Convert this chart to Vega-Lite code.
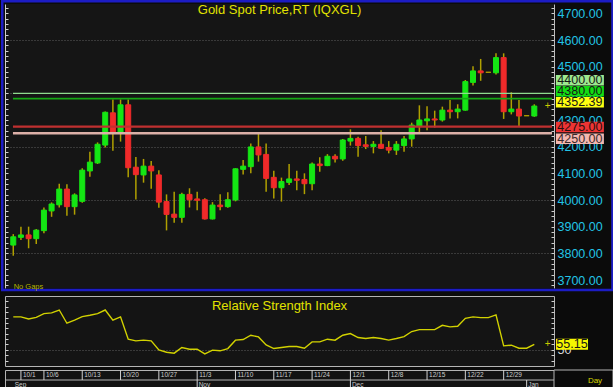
{
  "$schema": "https://vega.github.io/schema/vega-lite/v6.json",
  "background": "#0b0b0b",
  "padding": 0,
  "spacing": 2,
  "datasets": {
    "candles": [
      {"d": "9/30", "i": -1, "o": 3831, "h": 3872, "l": 3791, "c": 3862, "r": 80.6},
      {"d": "10/1", "i": 0, "o": 3860, "h": 3900, "l": 3850, "c": 3869, "r": 80.6},
      {"d": "10/2", "i": 1, "o": 3869, "h": 3900, "l": 3819, "c": 3855, "r": 78.7},
      {"d": "10/3", "i": 2, "o": 3855, "h": 3891, "l": 3835, "c": 3887, "r": 80.2},
      {"d": "10/6", "i": 3, "o": 3885, "h": 3972, "l": 3875, "c": 3962, "r": 83.6},
      {"d": "10/7", "i": 4, "o": 3959, "h": 3991, "l": 3937, "c": 3985, "r": 84.3},
      {"d": "10/8", "i": 5, "o": 3982, "h": 4061, "l": 3972, "c": 4041, "r": 87.0},
      {"d": "10/9", "i": 6, "o": 4041, "h": 4059, "l": 3941, "c": 3975, "r": 74.7},
      {"d": "10/10", "i": 7, "o": 3975, "h": 4025, "l": 3945, "c": 4019, "r": 77.5},
      {"d": "10/13", "i": 8, "o": 3995, "h": 4119, "l": 3990, "c": 4112, "r": 80.9},
      {"d": "10/14", "i": 9, "o": 4109, "h": 4181, "l": 4087, "c": 4142, "r": 82.1},
      {"d": "10/15", "i": 10, "o": 4139, "h": 4216, "l": 4135, "c": 4209, "r": 83.6},
      {"d": "10/16", "i": 11, "o": 4206, "h": 4332, "l": 4197, "c": 4329, "r": 87.0},
      {"d": "10/17", "i": 12, "o": 4327, "h": 4377, "l": 4185, "c": 4250, "r": 77.5},
      {"d": "10/20", "i": 13, "o": 4250, "h": 4377, "l": 4219, "c": 4357, "r": 80.6},
      {"d": "10/21", "i": 14, "o": 4357, "h": 4377, "l": 4085, "c": 4121, "r": 59.9},
      {"d": "10/22", "i": 15, "o": 4123, "h": 4161, "l": 4002, "c": 4095, "r": 58.3},
      {"d": "10/23", "i": 16, "o": 4094, "h": 4154, "l": 4065, "c": 4127, "r": 59.0},
      {"d": "10/24", "i": 17, "o": 4127, "h": 4146, "l": 4042, "c": 4109, "r": 58.3},
      {"d": "10/27", "i": 18, "o": 4094, "h": 4112, "l": 3971, "c": 3992, "r": 50.0},
      {"d": "10/28", "i": 19, "o": 3994, "h": 4021, "l": 3886, "c": 3946, "r": 47.8},
      {"d": "10/29", "i": 20, "o": 3947, "h": 4031, "l": 3915, "c": 3935, "r": 46.9},
      {"d": "10/30", "i": 21, "o": 3935, "h": 4027, "l": 3915, "c": 4021, "r": 52.2},
      {"d": "10/31", "i": 22, "o": 4021, "h": 4044, "l": 3972, "c": 4001, "r": 50.6},
      {"d": "11/3", "i": 23, "o": 4004, "h": 4031, "l": 3962, "c": 3999, "r": 50.6},
      {"d": "11/4", "i": 24, "o": 4001, "h": 4007, "l": 3927, "c": 3929, "r": 46.3},
      {"d": "11/5", "i": 25, "o": 3929, "h": 3992, "l": 3927, "c": 3981, "r": 49.7},
      {"d": "11/6", "i": 26, "o": 3981, "h": 4022, "l": 3962, "c": 3975, "r": 49.1},
      {"d": "11/7", "i": 27, "o": 3975, "h": 4029, "l": 3971, "c": 4001, "r": 51.2},
      {"d": "11/10", "i": 28, "o": 4000, "h": 4119, "l": 3995, "c": 4117, "r": 59.0},
      {"d": "11/11", "i": 29, "o": 4115, "h": 4150, "l": 4096, "c": 4127, "r": 59.6},
      {"d": "11/12", "i": 30, "o": 4125, "h": 4212, "l": 4100, "c": 4199, "r": 63.6},
      {"d": "11/13", "i": 31, "o": 4199, "h": 4250, "l": 4144, "c": 4169, "r": 62.0},
      {"d": "11/14", "i": 32, "o": 4171, "h": 4212, "l": 4031, "c": 4081, "r": 54.6},
      {"d": "11/17", "i": 33, "o": 4085, "h": 4110, "l": 4006, "c": 4046, "r": 51.2},
      {"d": "11/18", "i": 34, "o": 4046, "h": 4084, "l": 3994, "c": 4069, "r": 52.2},
      {"d": "11/19", "i": 35, "o": 4066, "h": 4135, "l": 4056, "c": 4079, "r": 53.1},
      {"d": "11/20", "i": 36, "o": 4079, "h": 4110, "l": 4037, "c": 4074, "r": 53.1},
      {"d": "11/21", "i": 37, "o": 4077, "h": 4100, "l": 4022, "c": 4061, "r": 51.5},
      {"d": "11/24", "i": 38, "o": 4061, "h": 4141, "l": 4037, "c": 4135, "r": 57.4},
      {"d": "11/25", "i": 39, "o": 4135, "h": 4160, "l": 4106, "c": 4129, "r": 57.4},
      {"d": "11/26", "i": 40, "o": 4129, "h": 4172, "l": 4127, "c": 4164, "r": 59.9},
      {"d": "11/27", "i": 41, "o": 4164, "h": 4172, "l": 4141, "c": 4154, "r": 59.0},
      {"d": "11/28", "i": 42, "o": 4154, "h": 4229, "l": 4147, "c": 4225, "r": 63.6},
      {"d": "12/1", "i": 43, "o": 4221, "h": 4265, "l": 4204, "c": 4231, "r": 65.1},
      {"d": "12/2", "i": 44, "o": 4231, "h": 4237, "l": 4162, "c": 4204, "r": 61.4},
      {"d": "12/3", "i": 45, "o": 4207, "h": 4240, "l": 4191, "c": 4201, "r": 60.5},
      {"d": "12/4", "i": 46, "o": 4201, "h": 4221, "l": 4175, "c": 4209, "r": 61.4},
      {"d": "12/5", "i": 47, "o": 4209, "h": 4262, "l": 4191, "c": 4194, "r": 60.5},
      {"d": "12/8", "i": 48, "o": 4197, "h": 4221, "l": 4175, "c": 4187, "r": 59.0},
      {"d": "12/9", "i": 49, "o": 4187, "h": 4221, "l": 4169, "c": 4209, "r": 60.5},
      {"d": "12/10", "i": 50, "o": 4204, "h": 4240, "l": 4181, "c": 4229, "r": 62.3},
      {"d": "12/11", "i": 51, "o": 4229, "h": 4290, "l": 4200, "c": 4281, "r": 67.0},
      {"d": "12/12", "i": 52, "o": 4277, "h": 4355, "l": 4254, "c": 4300, "r": 68.8},
      {"d": "12/15", "i": 53, "o": 4297, "h": 4352, "l": 4262, "c": 4304, "r": 68.8},
      {"d": "12/16", "i": 54, "o": 4304, "h": 4335, "l": 4272, "c": 4300, "r": 68.8},
      {"d": "12/17", "i": 55, "o": 4300, "h": 4350, "l": 4294, "c": 4337, "r": 72.8},
      {"d": "12/18", "i": 56, "o": 4337, "h": 4375, "l": 4306, "c": 4331, "r": 71.3},
      {"d": "12/19", "i": 57, "o": 4331, "h": 4359, "l": 4306, "c": 4341, "r": 71.9},
      {"d": "12/22", "i": 58, "o": 4337, "h": 4450, "l": 4335, "c": 4444, "r": 79.3},
      {"d": "12/23", "i": 59, "o": 4441, "h": 4502, "l": 4429, "c": 4484, "r": 80.6},
      {"d": "12/24", "i": 60, "o": 4484, "h": 4529, "l": 4447, "c": 4477, "r": 79.9},
      {"d": "12/25", "i": 61, "o": 4479, "h": 4479, "l": 4479, "c": 4479, "r": 79.9},
      {"d": "12/26", "i": 62, "o": 4477, "h": 4550, "l": 4471, "c": 4534, "r": 82.4},
      {"d": "12/29", "i": 63, "o": 4534, "h": 4550, "l": 4304, "c": 4331, "r": 53.7},
      {"d": "12/30", "i": 64, "o": 4331, "h": 4404, "l": 4321, "c": 4341, "r": 54.3},
      {"d": "12/31", "i": 65, "o": 4341, "h": 4375, "l": 4275, "c": 4315, "r": 51.5},
      {"d": "1/1", "i": 66, "o": 4316, "h": 4316, "l": 4316, "c": 4316, "r": 51.5},
      {"d": "1/2", "i": 67, "o": 4315, "h": 4359, "l": 4312, "c": 4352.39, "r": 55.15}
    ],
    "levels": [
      {"name": "4400.00", "p": 4400},
      {"name": "4380.00", "p": 4380},
      {"name": "4352.39", "p": 4352.39},
      {"name": "4275.00", "p": 4275},
      {"name": "4250.00", "p": 4250}
    ],
    "weeks": [
      {"i": 0, "t": "10/1"}, {"i": 3, "t": "10/6"}, {"i": 8, "t": "10/13"}, {"i": 13, "t": "10/20"},
      {"i": 18, "t": "10/27"}, {"i": 23, "t": "11/3"}, {"i": 28, "t": "11/10"}, {"i": 33, "t": "11/17"},
      {"i": 38, "t": "11/24"}, {"i": 43, "t": "12/1"}, {"i": 48, "t": "12/8"}, {"i": 53, "t": "12/15"},
      {"i": 58, "t": "12/22"}, {"i": 63, "t": "12/29"}
    ],
    "months": [
      {"i": -1, "t": "Sep"}, {"i": 23, "t": "Nov"}, {"i": 43, "t": "Dec"}, {"i": 66, "t": "Jan"}
    ]
  },
  "vconcat": [
    {
      "width": 549,
      "height": 284,
      "view": {"fill": "#151515", "stroke": null},
      "data": {"name": "candles"},
      "resolve": {"axis": {"y": "independent"}},
      "layer": [
        {
          "data": {"values": [{}]},
          "mark": {"type": "rect", "filled": false, "color": "#1c1cc4", "strokeWidth": 2.5, "opacity": 1},
          "encoding": {
            "x": {"datum": -2.44, "type": "quantitative", "axis": null, "scale": {"domain": [-2.08, 69.57], "nice": false, "zero": false, "padding": 0}},
            "x2": {"datum": 77.2},
            "y": {"datum": 4745.3, "type": "quantitative", "axis": null, "scale": {"domain": [3670, 4735], "nice": false, "zero": false}},
            "y2": {"datum": 3662.5}
          }
        },
        {
          "mark": {"type": "rule", "color": "#b0a000", "strokeWidth": 1.5},
          "encoding": {
            "x": {"field": "i", "type": "quantitative", "axis": {"orient": "bottom", "values": [0, 3, 8, 13, 18, 23, 28, 33, 38, 43, 48, 53, 58, 63], "grid": true, "gridColor": "#323232", "gridWidth": 1, "labels": false, "ticks": false, "domain": false, "title": null}},
            "y": {"field": "l", "type": "quantitative", "axis": {"orient": "left", "values": [3680, 3700, 3720, 3740, 3760, 3780, 3800, 3820, 3840, 3860, 3880, 3900, 3920, 3940, 3960, 3980, 4000, 4020, 4040, 4060, 4080, 4100, 4120, 4140, 4160, 4180, 4200, 4220, 4240, 4260, 4280, 4300, 4320, 4340, 4360, 4380, 4400, 4420, 4440, 4460, 4480, 4500, 4520, 4540, 4560, 4580, 4600, 4620, 4640, 4660, 4680, 4700, 4720], "tickSize": -3, "tickColor": "#cfcfcf", "labels": false, "grid": false, "domain": true, "domainColor": "#cfcfcf", "title": null}},
            "y2": {"field": "h"}
          }
        },
        {
          "mark": {"type": "bar", "width": 5, "strokeWidth": 1, "opacity": 1},
          "encoding": {
            "x": {"field": "i", "type": "quantitative", "axis": null},
            "y": {"field": "o", "type": "quantitative", "axis": {"orient": "right", "values": [3680, 3700, 3720, 3740, 3760, 3780, 3800, 3820, 3840, 3860, 3880, 3900, 3920, 3940, 3960, 3980, 4000, 4020, 4040, 4060, 4080, 4100, 4120, 4140, 4160, 4180, 4200, 4220, 4240, 4260, 4280, 4300, 4320, 4340, 4360, 4380, 4400, 4420, 4440, 4460, 4480, 4500, 4520, 4540, 4560, 4580, 4600, 4620, 4640, 4660, 4680, 4700, 4720], "labelExpr": "datum.value % 100 === 0 ? format(datum.value, '.2f') : ''", "labelColor": "#22c4e6", "labelFontSize": 12.5, "labelPadding": 6, "labelOverlap": false, "tickSize": -3, "tickColor": "#cfcfcf", "domain": true, "domainColor": "#bdbdbd", "grid": true, "gridColor": "#5e5e5e", "gridDash": [1, 2], "gridOpacity": {"condition": {"test": "datum.value % 200 === 0", "value": 1}, "value": 0}, "title": null}},
            "y2": {"field": "c"},
            "fill": {"condition": [{"test": "datum.c > datum.o", "value": "#14e614"}, {"test": "datum.c < datum.o", "value": "#f02a2a"}], "value": "#b0a000"},
            "stroke": {"condition": [{"test": "datum.c > datum.o", "value": "#14e614"}, {"test": "datum.c < datum.o", "value": "#f02a2a"}], "value": "#b0a000"}
          }
        },
        {
          "data": {"name": "levels"},
          "transform": [{"filter": "datum.name !== '4352.39'"}],
          "mark": {"type": "rule"},
          "encoding": {
            "x": {"datum": -1.04, "type": "quantitative", "axis": null},
            "x2": {"datum": 69.31},
            "y": {"field": "p", "type": "quantitative", "axis": null},
            "color": {"field": "name", "type": "nominal", "legend": null, "scale": {"domain": ["4400.00", "4380.00", "4275.00", "4250.00"], "range": ["#8fdc8f", "#14a814", "#c03030", "#dcb0a8"]}},
            "strokeWidth": {"field": "name", "type": "ordinal", "legend": null, "scale": {"domain": ["4400.00", "4380.00", "4275.00", "4250.00"], "range": [1.3, 2.5, 1.3, 1.3]}}
          }
        },
        {
          "data": {"name": "levels"},
          "transform": [{"filter": "datum.name === '4400.00'"}],
          "encoding": {
            "x": {"datum": 72.95, "type": "quantitative", "axis": null},
            "y": {"field": "p", "type": "quantitative", "axis": null}
          },
          "layer": [
            {"mark": {"type": "tick", "orient": "horizontal", "size": 48, "thickness": 10.5, "yOffset": -13, "color": "#9de890", "opacity": 1}},
            {"mark": {"type": "text", "dy": -13, "fontSize": 12.5, "color": "#161616"}, "encoding": {"text": {"field": "name"}}}
          ]
        },
        {
          "data": {"name": "levels"},
          "transform": [{"filter": "datum.name === '4380.00'"}],
          "encoding": {
            "x": {"datum": 72.95, "type": "quantitative", "axis": null},
            "y": {"field": "p", "type": "quantitative", "axis": null}
          },
          "layer": [
            {"mark": {"type": "tick", "orient": "horizontal", "size": 48, "thickness": 10.5, "yOffset": -7.3, "color": "#12dc12", "opacity": 1}},
            {"mark": {"type": "text", "dy": -7.3, "fontSize": 12.5, "color": "#161616"}, "encoding": {"text": {"field": "name"}}}
          ]
        },
        {
          "data": {"name": "levels"},
          "transform": [{"filter": "datum.name === '4352.39'"}],
          "encoding": {
            "x": {"datum": 72.95, "type": "quantitative", "axis": null},
            "y": {"field": "p", "type": "quantitative", "axis": null}
          },
          "layer": [
            {"mark": {"type": "tick", "orient": "horizontal", "size": 48, "thickness": 10.5, "yOffset": -3.7, "color": "#ffff10", "opacity": 1}},
            {"mark": {"type": "text", "dy": -3.7, "fontSize": 12.5, "color": "#161616"}, "encoding": {"text": {"field": "name"}}}
          ]
        },
        {
          "data": {"name": "levels"},
          "transform": [{"filter": "datum.name === '4275.00'"}],
          "encoding": {
            "x": {"datum": 72.95, "type": "quantitative", "axis": null},
            "y": {"field": "p", "type": "quantitative", "axis": null}
          },
          "layer": [
            {"mark": {"type": "tick", "orient": "horizontal", "size": 48, "thickness": 10.5, "yOffset": 0.4, "color": "#ee3434", "opacity": 1}},
            {"mark": {"type": "text", "dy": 0.4, "fontSize": 12.5, "color": "#2a1010"}, "encoding": {"text": {"field": "name"}}}
          ]
        },
        {
          "data": {"name": "levels"},
          "transform": [{"filter": "datum.name === '4250.00'"}],
          "encoding": {
            "x": {"datum": 72.95, "type": "quantitative", "axis": null},
            "y": {"field": "p", "type": "quantitative", "axis": null}
          },
          "layer": [
            {"mark": {"type": "tick", "orient": "horizontal", "size": 48, "thickness": 10.5, "yOffset": 5.4, "color": "#f4b8b0", "opacity": 1}},
            {"mark": {"type": "text", "dy": 5.4, "fontSize": 12.5, "color": "#3a2a2a"}, "encoding": {"text": {"field": "name"}}}
          ]
        },
        {
          "transform": [{"filter": "datum.i === 67"}],
          "mark": {"type": "text", "text": "+", "color": "#c8c800", "fontSize": 10, "align": "center", "baseline": "middle"},
          "encoding": {
            "x": {"datum": 68.75, "type": "quantitative", "axis": null},
            "y": {"field": "c", "type": "quantitative", "axis": null}
          }
        },
        {
          "data": {"values": [{}]},
          "mark": {"type": "text", "text": "Gold Spot Price,RT (IQXGL)", "color": "#e2e200", "fontSize": 13, "align": "center", "baseline": "alphabetic"},
          "encoding": {
            "x": {"datum": 33.75, "type": "quantitative", "axis": null},
            "y": {"datum": 4696.4, "type": "quantitative", "axis": null}
          }
        },
        {
          "data": {"values": [{}]},
          "mark": {"type": "text", "text": "No Gaps", "color": "#b4b400", "fontSize": 7.5, "align": "left", "baseline": "alphabetic"},
          "encoding": {
            "x": {"datum": -0.945, "type": "quantitative", "axis": null},
            "y": {"datum": 3667, "type": "quantitative", "axis": null}
          }
        }
      ]
    },
    {
      "spacing": 1,
      "vconcat": [
        {
          "width": 549,
          "height": 70,
          "view": {"fill": "#141414", "stroke": "#b4b4b4"},
          "data": {"name": "candles"},
          "resolve": {"axis": {"y": "independent"}},
          "layer": [
            {
              "mark": {"type": "line", "color": "#d2d200", "strokeWidth": 1.4},
              "encoding": {
                "x": {"field": "i", "type": "quantitative", "scale": {"domain": [-2.08, 69.57], "nice": false, "zero": false, "padding": 0}, "axis": {"orient": "bottom", "values": [0, 3, 8, 13, 18, 23, 28, 33, 38, 43, 48, 53, 58, 63], "grid": true, "gridColor": "#323232", "labels": false, "ticks": false, "domain": false, "title": null}},
                "y": {"field": "r", "type": "quantitative", "scale": {"domain": [35, 100], "nice": false, "zero": false}, "axis": {"orient": "right", "values": [40, 45, 50, 55, 60, 65, 70, 75, 80, 85, 90, 95], "tickSize": -3, "tickColor": "#d0d0d0", "labelExpr": "datum.value === 50 ? '50' : ''", "labelColor": "#d8d8d8", "labelFontSize": 12.5, "labelPadding": 6, "labelOverlap": false, "domain": false, "grid": true, "gridColor": "#5e5e5e", "gridDash": [1, 2], "gridOpacity": {"condition": {"test": "datum.value === 50", "value": 1}, "value": 0}, "title": null}}
              }
            },
            {
              "transform": [{"filter": "datum.i === 67"}],
              "mark": {"type": "point", "opacity": 0},
              "encoding": {
                "x": {"field": "i", "type": "quantitative", "axis": null},
                "y": {"field": "r", "type": "quantitative", "axis": {"orient": "left", "values": [40, 45, 50, 55, 60, 65, 70, 75, 80, 85, 90, 95], "tickSize": -3, "tickColor": "#d0d0d0", "labels": false, "grid": false, "domain": false, "title": null}}
              }
            },
            {
              "transform": [{"filter": "datum.i === 67"}],
              "encoding": {
                "y": {"field": "r", "type": "quantitative", "axis": null}
              },
              "layer": [
                {"mark": {"type": "tick", "orient": "horizontal", "size": 32, "thickness": 11, "color": "#f6f600", "opacity": 1}, "encoding": {"x": {"datum": 71.92, "type": "quantitative", "axis": null}}},
                {"mark": {"type": "text", "fontSize": 12.5, "color": "#161616"}, "encoding": {"x": {"datum": 71.92, "type": "quantitative", "axis": null}, "text": {"field": "r", "type": "quantitative", "format": ".2f"}}},
                {"mark": {"type": "text", "text": "+", "color": "#c8c800", "fontSize": 10, "align": "center", "baseline": "middle"}, "encoding": {"x": {"datum": 68.75, "type": "quantitative", "axis": null}}}
              ]
            },
            {
              "data": {"values": [{}]},
              "mark": {"type": "text", "text": "Relative Strength Index", "color": "#e2e200", "fontSize": 13, "align": "center", "baseline": "alphabetic"},
              "encoding": {
                "x": {"datum": 33.75, "type": "quantitative", "axis": null},
                "y": {"datum": 86.7, "type": "quantitative", "axis": null}
              }
            }
          ]
        },
        {
          "width": 549,
          "height": 20,
          "view": {"fill": "#121212", "stroke": "#b4b4b4"},
          "layer": [
            {
              "data": {"values": [{}]},
              "mark": {"type": "rect", "color": "#0a0a0a", "stroke": "#b4b4b4", "strokeWidth": 1, "opacity": 1},
              "encoding": {
                "x": {"datum": 69.57, "type": "quantitative", "axis": null, "scale": {"domain": [-2.08, 69.57], "nice": false, "zero": false, "padding": 0}},
                "x2": {"datum": 77.27},
                "y": {"datum": 2, "type": "quantitative", "axis": null, "scale": {"domain": [0, 2], "nice": false, "zero": false}},
                "y2": {"datum": 0}
              }
            },
            {
              "data": {"values": [{}]},
              "mark": {"type": "rule", "color": "#b4b4b4", "strokeWidth": 1},
              "encoding": {"y": {"datum": 1, "type": "quantitative", "axis": null}}
            },
            {
              "data": {"name": "weeks"},
              "mark": {"type": "rule", "color": "#d0d0d0", "strokeWidth": 1},
              "encoding": {
                "x": {"field": "i", "type": "quantitative", "axis": null},
                "y": {"datum": 1, "type": "quantitative", "axis": null},
                "y2": {"datum": 2}
              }
            },
            {
              "data": {"name": "weeks"},
              "mark": {"type": "text", "align": "left", "baseline": "middle", "dx": 2, "fontSize": 6.5, "color": "#cccccc"},
              "encoding": {
                "x": {"field": "i", "type": "quantitative", "axis": null},
                "y": {"datum": 1.5, "type": "quantitative", "axis": null},
                "text": {"field": "t"}
              }
            },
            {
              "data": {"name": "months"},
              "transform": [{"filter": "datum.t !== 'Sep'"}],
              "mark": {"type": "rule", "color": "#d0d0d0", "strokeWidth": 1},
              "encoding": {
                "x": {"field": "i", "type": "quantitative", "axis": null},
                "y": {"datum": 0, "type": "quantitative", "axis": null},
                "y2": {"datum": 1}
              }
            },
            {
              "data": {"name": "months"},
              "mark": {"type": "text", "align": "left", "baseline": "middle", "dx": 1.5, "fontSize": 6.5, "color": "#cccccc"},
              "encoding": {
                "x": {"field": "i", "type": "quantitative", "axis": null},
                "y": {"datum": 0.5, "type": "quantitative", "axis": null},
                "text": {"field": "t"}
              }
            },
            {
              "data": {"values": [{}]},
              "mark": {"type": "text", "text": "Day", "color": "#d8d800", "fontSize": 8, "align": "center", "baseline": "middle"},
              "encoding": {
                "x": {"datum": 74.92, "type": "quantitative", "axis": null},
                "y": {"datum": 0.95, "type": "quantitative", "axis": null}
              }
            }
          ]
        }
      ]
    }
  ],
  "config": {
    "view": {"stroke": null},
    "text": {"font": "Liberation Sans"},
    "axis": {"labelFont": "Liberation Sans"}
  }
}
